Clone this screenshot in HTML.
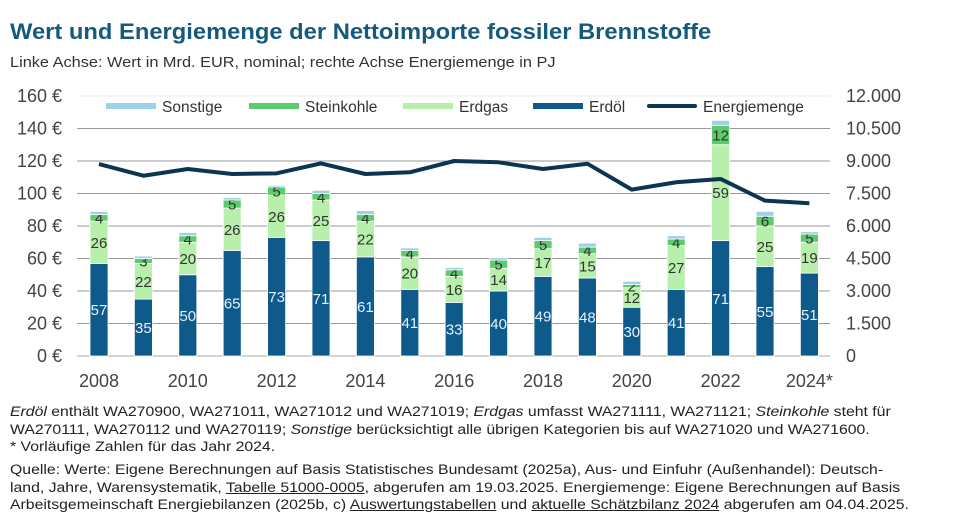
<!DOCTYPE html>
<html><head><meta charset="utf-8"><style>
body{margin:0;background:#fff;width:977px;height:520px;overflow:hidden;font-family:"Liberation Sans",sans-serif}
.t{position:absolute;left:10px;top:19px;font-size:22.5px;font-weight:bold;color:#15597c;white-space:nowrap;transform:scaleX(1.055);transform-origin:left}
.s{position:absolute;left:10px;top:55px;font-size:14.5px;color:#333;white-space:nowrap;transform:scaleX(1.125);transform-origin:left}
.f{position:absolute;left:10px;font-size:14.2px;color:#222;white-space:nowrap;line-height:17.5px;transform:scaleX(1.113);transform-origin:left}
u{text-decoration:underline}
</style></head><body>
<div class="t">Wert und Energiemenge der Nettoimporte fossiler Brennstoffe</div>
<div class="s">Linke Achse: Wert in Mrd. EUR, nominal; rechte Achse Energiemenge in PJ</div>
<svg id="c" width="977" height="400" style="position:absolute;left:0;top:0"></svg>
<div class="f" style="top:404px"><i>Erdöl</i> enthält WA270900, WA271011, WA271012 und WA271019; <i>Erdgas</i> umfasst WA271111, WA271121; <i>Steinkohle</i> steht für<br>WA270111, WA270112 und WA270119; <i>Sonstige</i> berücksichtigt alle übrigen Kategorien bis auf WA271020 und WA271600.<br>* Vorläufige Zahlen für das Jahr 2024.</div>
<div class="f" style="top:462px">Quelle: Werte: Eigene Berechnungen auf Basis Statistisches Bundesamt (2025a), Aus- und Einfuhr (Außenhandel): Deutsch-<br>land, Jahre, Warensystematik, <u>Tabelle 51000-0005</u>, abgerufen am 19.03.2025. Energiemenge: Eigene Berechnungen auf Basis<br>Arbeitsgemeinschaft Energiebilanzen (2025b, c) <u>Auswertungstabellen</u> und <u>aktuelle Schätzbilanz 2024</u> abgerufen am 04.04.2025.</div>
<script>
const years=[2008,2009,2010,2011,2012,2013,2014,2015,2016,2017,2018,2019,2020,2021,2022,2023,2024];
const erdoel=[57,35,50,65,73,71,61,41,33,40,49,48,30,41,71,55,51];
const erdgas=[26,22,20,26,26,25,22,20,16,14,17,15,12,27,59,25,19];
const steinkohle=[4,3,4,5,5,4,4,4,4,5,5,4,2,4,12,6,5];
const sonstige=[2,1.5,2,1.5,1,2,2.5,1.5,1.5,1.5,2,2.5,2,2,3,3,1.5];
const energie=[8860,8320,8630,8400,8430,8890,8400,8480,9000,8940,8630,8875,7680,8020,8170,7170,7050];
const leftTicks=["0 €","20 €","40 €","60 €","80 €","100 €","120 €","140 €","160 €"];
const rightTicks=["0","1.500","3.000","4.500","6.000","7.500","9.000","10.500","12.000"];
const xLabels=["2008","2010","2012","2014","2016","2018","2020","2022","2024*"];
const NS="http://www.w3.org/2000/svg",svg=document.getElementById('c');
const y0=356,y1=96,x0=99,dx=44.4,bw=18;
const yL=v=>y0-(v/160)*(y0-y1), yR=v=>y0-(v/12000)*(y0-y1), xC=i=>x0+i*dx;
function el(t,a,p){const e=document.createElementNS(NS,t);for(const k in a)e.setAttribute(k,a[k]);(p||svg).appendChild(e);return e;}
for(let i=0;i<leftTicks.length;i++){const y=yL(i*20);
 const g=el('line',{x1:77,x2:830,y1:y,y2:y,stroke:i==0?'#aaa':(i==8?'#eee':'#999'),'stroke-width':1});
 
 
 const a=el('text',{x:62,y:y+6,'text-anchor':'end','font-size':18,fill:'#444'});a.textContent=leftTicks[i];
 
 
 const b=el('text',{x:846,y:yR(i*1500)+6,'font-size':18,fill:'#444'});b.textContent=rightTicks[i];
 
 
}
xLabels.forEach((l,j)=>{const t=el('text',{x:xC(j*2),y:387,'text-anchor':'middle','font-size':18,fill:'#444'});t.textContent=l;
 
 });
const series=[[erdoel,'#0e5a8a','#e6f2ff','erdoel'],[erdgas,'#b8f0ab','#333','erdgas'],[steinkohle,'#5ccb6c','#333','steinkohle'],[sonstige,'#9fd0ea',null,'sonstige']];
years.forEach((yr,i)=>{let base=0;series.forEach(([arr,col,lc,nm])=>{const v=arr[i];const ya=yL(base),yb=yL(base+v);
 const r=el('rect',{x:xC(i)-bw/2,y:yb,width:bw,height:Math.max(0,ya-yb),fill:col,stroke:'#fff','stroke-width':0.8});
 
 
 if(lc){const t=el('text',{x:xC(i),y:(ya+yb)/2+5.5,'text-anchor':'middle','font-size':15,fill:lc});t.textContent=v;
  
  }
 base+=v;});});
const p=el('polyline',{points:energie.map((v,i)=>xC(i)+','+yR(v)).join(' '),fill:'none',stroke:'#0c3550','stroke-width':4,'stroke-linejoin':'round'});


const leg=[['Sonstige',106,'#9fd0ea',6],['Steinkohle',249,'#5ccb6c',6],['Erdgas',403,'#b8f0ab',6],['Erdöl',533,'#0e5a8a',6],['Energiemenge',647,'#0c3550',4]];
leg.forEach(([n,x,c,h])=>{const g=el('g',{});
 
 
 el('rect',{x:x,y:106-h/2,width:50,height:h,fill:c,rx:h==4?2:0},g);
 const t=el('text',{x:x+56,y:112,'font-size':15.5,fill:'#333'},g);t.textContent=n;});
</script>
</body></html>
